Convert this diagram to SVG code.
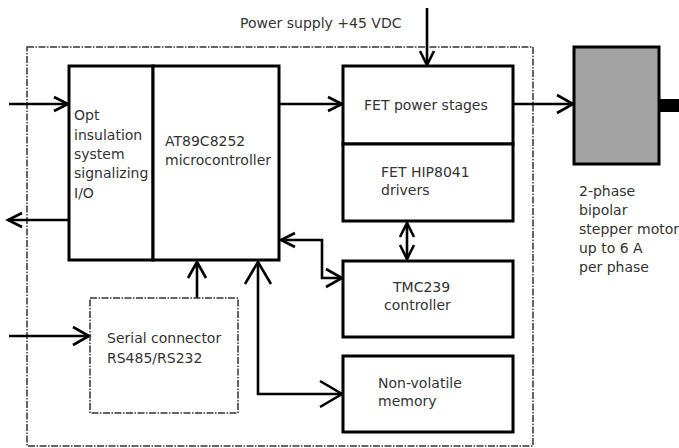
<svg xmlns="http://www.w3.org/2000/svg" width="679" height="448" viewBox="0 0 679 448">
<style>
.box{fill:#fff;stroke:#000;stroke-width:3}
.dash{fill:none;stroke:#333;stroke-width:1.5;stroke-dasharray:7 1.5 1.5 1.5}
.ln{fill:none;stroke:#000;stroke-width:2.6}
text{font-family:"DejaVu Sans",Verdana,sans-serif;font-size:14px;fill:#333}
</style>
<defs>
<marker id="s" markerUnits="userSpaceOnUse" markerWidth="40" markerHeight="40" viewBox="-20 -20 40 40" refX="0" refY="0" orient="auto-start-reverse"><path d="M-14,-7 L0,0 L-14,7" fill="none" stroke="#000" stroke-width="2.6"/></marker>
<marker id="m" markerUnits="userSpaceOnUse" markerWidth="40" markerHeight="40" viewBox="-20 -20 40 40" refX="0" refY="0" orient="auto-start-reverse"><path d="M-16,-9 L0,0 L-16,9" fill="none" stroke="#000" stroke-width="2.6"/></marker>
<marker id="l" markerUnits="userSpaceOnUse" markerWidth="60" markerHeight="60" viewBox="-30 -30 60 60" refX="0" refY="0" orient="auto-start-reverse"><path d="M-22,-13 L0,0 L-22,13" fill="none" stroke="#000" stroke-width="2.6"/></marker>
</defs>
<rect id="enclosure" class="dash" x="27" y="47" width="506" height="399"/>
<text x="240" y="28">Power supply +45 VDC</text>
<g id="connectors">
<path class="ln" d="M9,104 H68" marker-end="url(#s)"/>
<path class="ln" d="M69,220 H8" marker-end="url(#s)"/>
<path class="ln" d="M9,336 H89" marker-end="url(#m)"/>
<path class="ln" d="M280,104 H342" marker-end="url(#s)"/>
<path class="ln" d="M427,8 V65" marker-end="url(#s)"/>
<path class="ln" d="M514,104 H573" marker-end="url(#m)"/>
<path class="ln" d="M407,223 V259" marker-start="url(#s)" marker-end="url(#s)"/>
<path class="ln" d="M281,240 H322 V278 H342" marker-start="url(#s)" marker-end="url(#m)"/>
<path class="ln" d="M197,298 V262" marker-end="url(#m)"/>
<path class="ln" d="M258,262 V394 H342" marker-start="url(#l)" marker-end="url(#l)"/>
</g>
<g id="opt">
<rect class="box" x="69" y="66" width="84" height="194"/>
<text x="74" y="120">Opt</text>
<text x="74" y="140">insulation</text>
<text x="74" y="159">system</text>
<text x="74" y="178">signalizing</text>
<text x="74" y="198">I/O</text>
</g>
<g id="micro">
<rect class="box" x="153" y="66" width="126" height="194"/>
<text x="165" y="146">AT89C8252</text>
<text x="165" y="165">microcontroller</text>
</g>
<g id="serial">
<rect class="dash" x="90" y="298" width="148" height="115"/>
<text x="107" y="343">Serial connector</text>
<text x="107" y="363">RS485/RS232</text>
</g>
<g id="fetpower">
<rect class="box" x="343" y="66" width="170" height="78"/>
<text x="364" y="110">FET power stages</text>
</g>
<g id="fetdrivers">
<rect class="box" x="343" y="144" width="170" height="77"/>
<text x="381" y="177">FET HIP8041</text>
<text x="381" y="195">drivers</text>
</g>
<g id="tmc">
<rect class="box" x="343" y="261" width="170" height="76"/>
<text x="393" y="292">TMC239</text>
<text x="384" y="310">controller</text>
</g>
<g id="nvm">
<rect class="box" x="343" y="356" width="170" height="76"/>
<text x="378" y="388">Non-volatile</text>
<text x="378" y="406">memory</text>
</g>
<g id="motor">
<rect x="574" y="47" width="85" height="117" fill="#a3a3a3" stroke="#000" stroke-width="3"/>
<rect x="659" y="99" width="20" height="13" fill="#000"/>
<text x="579" y="196">2-phase</text>
<text x="579" y="215">bipolar</text>
<text x="579" y="234">stepper motor</text>
<text x="579" y="253">up to 6 A</text>
<text x="579" y="272">per phase</text>
</g>
</svg>
